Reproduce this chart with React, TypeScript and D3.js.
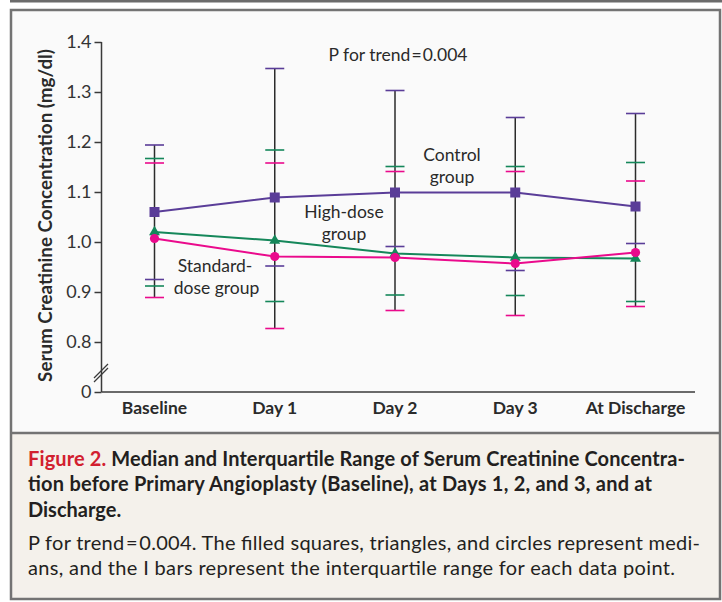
import React, { useEffect, useRef } from 'react';
import * as d3 from 'd3';

const CATEGORIES = ['Baseline', 'Day 1', 'Day 2', 'Day 3', 'At Discharge'];

// medians and interquartile range
const CONTROL_MEDIAN = [1.06, 1.089, 1.099, 1.099, 1.071];
const CONTROL_Q1 = [0.925, 0.952, 0.991, 0.943, 0.997];
const CONTROL_Q3 = [1.194, 1.347, 1.303, 1.249, 1.257];

const HIGH_MEDIAN = [1.02, 1.003, 0.977, 0.969, 0.967];
const HIGH_Q1 = [0.912, 0.881, 0.894, 0.893, 0.881];
const HIGH_Q3 = [1.167, 1.184, 1.151, 1.151, 1.159];

const STD_MEDIAN = [1.007, 0.971, 0.969, 0.957, 0.979];
const STD_Q1 = [0.889, 0.827, 0.863, 0.853, 0.871];
const STD_Q3 = [1.158, 1.158, 1.141, 1.141, 1.122];

// 0.7 stands in for the broken axis bottom, labelled "0"
const Y_TICKS = [0.7, 0.8, 0.9, 1.0, 1.1, 1.2, 1.3, 1.4];
const Y_TICK_LABELS = ['0', '0.8', '0.9', '1.0', '1.1', '1.2', '1.3', '1.4'];

const CAPTION_BOLD = [
  'Median and Interquartile Range of Serum Creatinine Concentra-',
  'tion before Primary Angioplasty (Baseline), at Days 1, 2, and 3, and at',
  'Discharge.',
];
const CAPTION_TEXT = [
  'P for trend\u200a=\u200a0.004. The filled squares, triangles, and circles represent medi-',
  'ans, and the I bars represent the interquartile range for each data point.',
];

const PURPLE = '#5a3d98';
const GREEN = '#15875a';
const PINK = '#ea0a8c';
const FONT = 'Lato, "Open Sans", sans-serif';

const App = () => {
  const ref = useRef<SVGSVGElement>(null);

  useEffect(() => {
    const width = 722,
      height = 602;
    const svg = d3.select(ref.current);
    svg.selectAll('*').remove();

    // frame
    svg.append('rect').attr('x', 0).attr('y', 0).attr('width', width).attr('height', height).attr('fill', '#ffffff');
    svg.append('rect').attr('x', 10).attr('y', 0).attr('width', 712).attr('height', 2.5).attr('fill', '#6b6b6b');
    svg
      .append('rect')
      .attr('x', 11)
      .attr('y', 10)
      .attr('width', 709)
      .attr('height', 423)
      .attr('fill', '#fafafa');
    svg
      .append('rect')
      .attr('x', 11)
      .attr('y', 433)
      .attr('width', 709)
      .attr('height', 166)
      .attr('fill', '#f4f1eb');
    svg
      .append('rect')
      .attr('x', 11)
      .attr('y', 10)
      .attr('width', 709)
      .attr('height', 589)
      .attr('fill', 'none')
      .attr('stroke', '#737373')
      .attr('stroke-width', 2.5);
    svg
      .append('line')
      .attr('x1', 11)
      .attr('x2', 720)
      .attr('y1', 433)
      .attr('y2', 433)
      .attr('stroke', '#737373')
      .attr('stroke-width', 2.5);

    const x = d3.scalePoint().domain(CATEGORIES).range([154.5, 635.5]);
    const y = d3.scaleLinear().domain([0.7, 1.4]).range([392, 42]);

    const axisX0 = 101.5;
    const axisX1 = 695;

    // y axis
    const yAxis = d3
      .axisLeft(y)
      .tickValues(Y_TICKS)
      .tickSize(7)
      .tickPadding(3)
      .tickFormat((d, i) => Y_TICK_LABELS[i]);
    const gy = svg.append('g').attr('transform', `translate(${axisX0},0)`).call(yAxis);
    gy.select('.domain').remove();
    gy.selectAll('line').attr('stroke', '#3a3a3a').attr('stroke-width', 1.5);
    gy.selectAll('text')
      .attr('fill', '#333')
      .style('font-family', FONT)
      .style('font-size', '18px');

    svg
      .append('line')
      .attr('x1', axisX0)
      .attr('x2', axisX0)
      .attr('y1', y(1.4))
      .attr('y2', y(0.7))
      .attr('stroke', '#3a3a3a')
      .attr('stroke-width', 1.5);
    svg
      .append('line')
      .attr('x1', axisX0)
      .attr('x2', axisX1)
      .attr('y1', y(0.7))
      .attr('y2', y(0.7))
      .attr('stroke', '#3a3a3a')
      .attr('stroke-width', 1.5);

    // axis break
    [0, 4].forEach(off => {
      svg
        .append('line')
        .attr('x1', 94)
        .attr('y1', 378 + off)
        .attr('x2', 108)
        .attr('y2', 364 + off)
        .attr('stroke', '#3a3a3a')
        .attr('stroke-width', 1.3);
    });

    // x labels
    svg
      .append('g')
      .selectAll('text')
      .data(CATEGORIES)
      .enter()
      .append('text')
      .attr('x', d => x(d) as number)
      .attr('y', 414)
      .attr('text-anchor', 'middle')
      .attr('fill', '#2a2a2a')
      .style('font-family', FONT)
      .style('font-weight', 700)
      .style('font-size', '17.5px')
      .text(d => d);

    // y title
    svg
      .append('text')
      .attr('transform', `translate(52,${215.5}) rotate(-90)`)
      .attr('text-anchor', 'middle')
      .attr('fill', '#2a2a2a')
      .style('font-family', FONT)
      .style('font-weight', 700)
      .style('font-size', '18.8px')
      .text('Serum Creatinine Concentration (mg/dl)');

    const series = [
      { key: 'control', color: PURPLE, med: CONTROL_MEDIAN, q1: CONTROL_Q1, q3: CONTROL_Q3 },
      { key: 'high', color: GREEN, med: HIGH_MEDIAN, q1: HIGH_Q1, q3: HIGH_Q3 },
      { key: 'std', color: PINK, med: STD_MEDIAN, q1: STD_Q1, q3: STD_Q3 },
    ];

    // black vertical I bars, one per category spanning all groups
    svg
      .append('g')
      .selectAll('line')
      .data(CATEGORIES)
      .enter()
      .append('line')
      .attr('x1', d => x(d) as number)
      .attr('x2', d => x(d) as number)
      .attr('y1', (d, i) => y(d3.max(series, s => s.q3[i]) as number))
      .attr('y2', (d, i) => y(d3.min(series, s => s.q1[i]) as number))
      .attr('stroke', '#2b2b2b')
      .attr('stroke-width', 1.5);

    // colored caps
    series.forEach(s => {
      const g = svg.append('g');
      [s.q1, s.q3].forEach(vals => {
        g.selectAll(null)
          .data(vals)
          .enter()
          .append('line')
          .attr('x1', (d, i) => (x(CATEGORIES[i]) as number) - 9.5)
          .attr('x2', (d, i) => (x(CATEGORIES[i]) as number) + 9.5)
          .attr('y1', d => y(d))
          .attr('y2', d => y(d))
          .attr('stroke', s.color)
          .attr('stroke-width', 1.6);
      });
    });

    // median lines
    const line = d3
      .line<number>()
      .x((d, i) => x(CATEGORIES[i]) as number)
      .y(d => y(d));
    series.forEach(s => {
      svg
        .append('path')
        .attr('d', line(s.med))
        .attr('fill', 'none')
        .attr('stroke', s.color)
        .attr('stroke-width', 2);
    });

    // markers
    const symbols = {
      control: d3.symbol().type(d3.symbolSquare).size(100),
      high: d3.symbol().type(d3.symbolTriangle).size(52),
      std: d3.symbol().type(d3.symbolCircle).size(66),
    };
    series.forEach(s => {
      svg
        .append('g')
        .selectAll('path')
        .data(s.med)
        .enter()
        .append('path')
        .attr('transform', (d, i) => `translate(${x(CATEGORIES[i])},${y(d)})`)
        .attr('d', symbols[s.key as keyof typeof symbols]() as string)
        .attr('fill', s.color);
    });

    // annotations
    const note = (txt: string, cx: number, cy: number) =>
      svg
        .append('text')
        .attr('x', cx)
        .attr('y', cy)
        .attr('text-anchor', 'middle')
        .attr('fill', '#2a2a2a')
        .style('font-family', FONT)
        .style('font-size', '17.5px')
        .text(txt);
    note('P for trend\u200a=\u200a0.004', 398, 61);
    note('Control', 452, 161);
    note('group', 452, 182.5);
    note('High-dose', 344, 218);
    note('group', 344, 239.5);
    note('Standard-', 215, 272);
    note('dose group', 216.5, 293.5);

    // caption
    const BOLD_LEN = [657, 624, null];
    CAPTION_BOLD.forEach((t, i) => {
      const row = svg
        .append('text')
        .attr('x', 28)
        .attr('y', 465.5 + i * 25.5)
        .attr('fill', '#231f20')
        .style('font-family', FONT)
        .style('font-weight', 700)
        .style('font-size', '20px');
      if (BOLD_LEN[i]) row.attr('textLength', BOLD_LEN[i]).attr('lengthAdjust', 'spacing');
      if (i === 0) {
        row.append('tspan').attr('fill', '#d2202f').text('Figure 2. ');
      }
      row.append('tspan').text(t);
    });
    const TEXT_LEN = [672, 647];
    CAPTION_TEXT.forEach((t, i) => {
      svg
        .append('text')
        .attr('x', 28)
        .attr('y', 550 + i * 25)
        .attr('fill', '#231f20')
        .attr('textLength', TEXT_LEN[i])
        .attr('lengthAdjust', 'spacing')
        .style('font-family', FONT)
        .style('font-size', '20px')
        .text(t);
    });
  }, []);

  return (
    <svg
      ref={ref}
      width={722}
      height={602}
      style={{ position: 'absolute', left: 0, top: 0, display: 'block' }}
    />
  );
};

export default App;
